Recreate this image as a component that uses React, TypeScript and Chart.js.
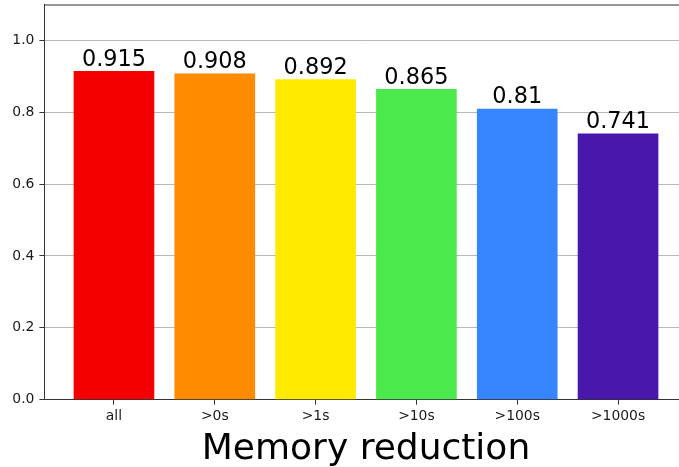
import React, { useEffect, useRef } from "react";
import { Chart, registerables } from "chart.js";

Chart.register(...registerables);

const categories = ["all", ">0s", ">1s", ">10s", ">100s", ">1000s"];
const values = [0.915, 0.908, 0.892, 0.865, 0.81, 0.741];
const valueLabels = ["0.915", "0.908", "0.892", "0.865", "0.81", "0.741"];
const barColors = ["#f50000", "#ff8c00", "#ffea00", "#4ce94c", "#3784ff", "#4a17ad"];
const yTicks = [0, 0.2, 0.4, 0.6, 0.8, 1.0];
const xLabel = "Memory reduction";

const FONT = "'DejaVu Sans', sans-serif";
const SPINE = "#333333";

export default function App() {
  const ref = useRef<HTMLCanvasElement | null>(null);
  useEffect(() => {
    if (!ref.current) return;
    const overlay = {
      id: "overlay",
      afterDatasetsDraw(chart: any) {
        const ctx = chart.ctx;
        const area = chart.chartArea;
        const meta = chart.getDatasetMeta(0);
        ctx.save();
        ctx.fillStyle = "#000";
        ctx.font = `22.4px ${FONT}`;
        ctx.textAlign = "center";
        ctx.textBaseline = "alphabetic";
        meta.data.forEach((el: any, i: number) => {
          ctx.fillText(valueLabels[i], el.x, el.y - 5.2);
        });
        // top spine
        ctx.strokeStyle = SPINE;
        ctx.lineWidth = 1;
        ctx.beginPath();
        ctx.moveTo(area.left, area.top + 0.5);
        ctx.lineTo(area.right, area.top + 0.5);
        ctx.stroke();
        // x label
        ctx.font = `36px ${FONT}`;
        ctx.fillText(xLabel, (area.left + area.right) / 2, 459);
        ctx.restore();
      },
    };
    const chart = new Chart(ref.current, {
      type: "bar",
      data: {
        datasets: [
          {
            data: values.map((v, i) => ({ x: i, y: v })),
            backgroundColor: barColors,
            borderWidth: 0,
            barPercentage: 0.8,
            categoryPercentage: 1,
          },
        ],
      },
      options: {
        responsive: false,
        animation: false,
        layout: { padding: { left: 0, right: 12.4, top: 4.5, bottom: 0 } },
        plugins: { legend: { display: false }, tooltip: { enabled: false } },
        scales: {
          x: {
            type: "linear",
            min: -0.69,
            max: 5.69,
            offset: false,
            afterBuildTicks: (scale: any) => {
              scale.ticks = categories.map((_, i) => ({ value: i }));
            },
            afterFit: (scale: any) => {
              scale.height = 67.3;
              scale.paddingLeft = 0;
              scale.paddingRight = 0;
            },
            ticks: {
              autoSkip: false,
              maxRotation: 0,
              padding: 3,
              color: "#1a1a1a",
              font: { family: FONT, size: 13.9 },
              callback: (v: any) => categories[Math.round(v)] ?? "",
            },
            grid: {
              offset: false,
              drawOnChartArea: false,
              drawTicks: true,
              tickLength: 5,
              tickColor: SPINE,
            },
            border: { display: true, color: SPINE, width: 1 },
          },
          y: {
            min: 0,
            max: 1.1,
            afterBuildTicks: (scale: any) => {
              scale.ticks = yTicks.map((v) => ({ value: v }));
            },
            afterFit: (scale: any) => {
              scale.width = 44.4;
              scale.paddingTop = 0;
              scale.paddingBottom = 0;
            },
            ticks: {
              padding: 5,
              color: "#1a1a1a",
              font: { family: FONT, size: 13.9 },
              callback: (v: any) => Number(v).toFixed(1),
            },
            grid: {
              color: "#b8b8b8",
              lineWidth: 1,
              drawTicks: true,
              tickLength: 5,
              tickColor: SPINE,
            },
            border: { display: true, color: SPINE, width: 1 },
          },
        },
      },
      plugins: [overlay],
    } as any);
    return () => chart.destroy();
  }, []);
  return (
    <div
      style={{
        position: "fixed",
        left: 0,
        top: 0,
        width: 679,
        height: 467,
        overflow: "hidden",
        background: "#fff",
      }}
    >
      <canvas ref={ref} width={700} height={467} style={{ width: 700, height: 467, display: "block" }} />
    </div>
  );
}
